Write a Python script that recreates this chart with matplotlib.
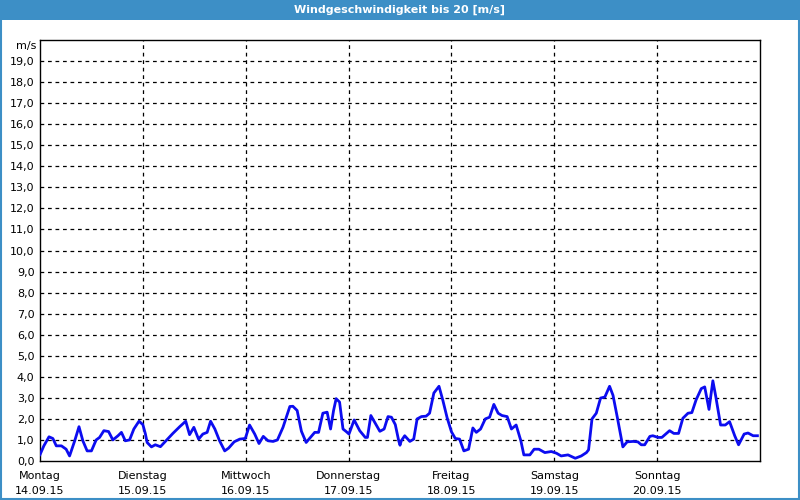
import matplotlib
matplotlib.use("Agg")
import matplotlib.pyplot as plt
from matplotlib.patches import Rectangle

# Stunden ab Montag 00:00 und Windgeschwindigkeit in m/s
stunden = [0.0, 0.9, 2.1, 3.0, 3.8, 5.0, 6.1, 6.9, 8.1, 9.1, 10.0, 11.0, 12.0,
           13.1, 13.9, 14.9, 16.0, 17.0, 18.2, 19.0, 19.9, 20.9, 21.9, 23.1,
           24.0, 24.6, 25.0, 26.0, 26.9, 28.1, 31.0, 32.6, 34.0, 34.9, 35.9,
           37.0, 38.0, 39.0, 39.8, 40.8, 41.9, 43.1, 44.0, 45.3, 46.6, 47.9,
           48.9, 50.1, 51.1, 52.1, 53.2, 54.4, 55.4, 56.7, 58.3, 59.0, 60.0,
           61.0, 62.1, 62.9, 64.1, 65.0, 66.0, 67.0, 67.8, 68.5, 69.1, 69.9,
           70.7, 71.5, 72.1, 73.3, 74.6, 75.9, 76.4, 77.2, 78.1, 79.3, 80.3,
           81.2, 82.0, 82.9, 83.7, 84.0, 84.3, 85.1, 86.3, 87.2, 88.0, 89.0,
           90.1, 90.9, 91.9, 93.1, 94.0, 95.0, 96.0, 96.9, 97.9, 98.9, 100.0,
           101.0, 101.8, 102.8, 103.9, 104.9, 105.9, 106.9, 107.8, 109.0,
           110.0, 111.1, 112.2, 112.9, 114.3, 115.3, 116.4, 117.8, 119.3,
           120.5, 121.6, 123.2, 124.9, 126.3, 127.5, 128.0, 128.8, 129.8,
           130.8, 131.8, 132.9, 133.7, 134.7, 136.0, 137.0, 138.4, 139.5,
           140.3, 141.1, 142.3, 143.0, 144.2, 145.1, 146.9, 147.9, 149.0,
           150.0, 151.2, 152.1, 153.1, 154.3, 155.1, 156.1, 157.0, 157.7,
           158.8, 159.9, 160.9, 162.1, 163.0, 164.3, 165.2, 166.4, 167.4]
wind = [0.3, 0.72, 1.15, 1.07, 0.72, 0.72, 0.56, 0.24, 0.96, 1.63, 0.96, 0.48,
        0.48, 1.0, 1.12, 1.44, 1.4, 1.0, 1.2, 1.36, 0.96, 1.0, 1.52, 1.89,
        1.73, 1.28, 0.88, 0.67, 0.77, 0.68, 1.31, 1.63, 1.89, 1.25, 1.6,
        1.04, 1.28, 1.36, 1.89, 1.52, 0.96, 0.48, 0.61, 0.91, 1.04, 1.07,
        1.71, 1.28, 0.83, 1.17, 0.96, 0.93, 1.0, 1.6, 2.59, 2.6, 2.4,
        1.41, 0.88, 1.07, 1.36, 1.36, 2.27, 2.32, 1.52, 2.4, 2.96, 2.8,
        1.52, 1.39, 1.28, 1.95, 1.44, 1.12, 1.12, 2.16, 1.84, 1.41, 1.52,
        2.11, 2.08, 1.73, 0.96, 0.75, 0.96, 1.2, 0.93, 1.04, 2.0, 2.11,
        2.13, 2.27, 3.23, 3.55, 2.88, 2.05, 1.39, 1.07, 1.04, 0.48, 0.56,
        1.57, 1.36, 1.52, 2.0, 2.08, 2.69, 2.27, 2.16, 2.11,
        1.52, 1.71, 0.96, 0.29, 0.29, 0.56, 0.56, 0.4, 0.45,
        0.37, 0.24, 0.29, 0.13, 0.24, 0.4, 0.53, 2.0, 2.27,
        2.99, 3.04, 3.55, 3.12, 2.08, 0.67, 0.91, 0.93, 0.91,
        0.77, 0.77, 1.17, 1.2, 1.12, 1.12, 1.44, 1.31, 1.31,
        2.03, 2.27, 2.3, 2.91, 3.44, 3.52, 2.45, 3.81, 3.04,
        1.71, 1.71, 1.87, 1.2, 0.77, 1.28, 1.33, 1.2, 1.2]

tage = ["Montag", "Dienstag", "Mittwoch", "Donnerstag", "Freitag", "Samstag", "Sonntag"]
daten = ["14.09.15", "15.09.15", "16.09.15", "17.09.15", "18.09.15", "19.09.15", "20.09.15"]

blau = "#3d8fc6"

fig = plt.figure(figsize=(8, 5), dpi=100)
fig.patch.set_facecolor("white")

# Titelleiste und Rahmen
fig.patches.append(Rectangle((0, 0.96), 1, 0.04, transform=fig.transFigure,
                             facecolor=blau, edgecolor="none", zorder=0))
fig.patches.append(Rectangle((0.0012, 0.002), 0.9976, 0.996, transform=fig.transFigure,
                             facecolor="none", edgecolor=blau, linewidth=1.5, zorder=0))
fig.text(0.5, 0.98, "Windgeschwindigkeit bis 20 [m/s]", color="white",
         ha="center", va="center", fontsize=8, fontweight="bold")

ax = fig.add_axes([0.05, 0.078, 0.9, 0.842])
ax.plot(stunden, wind, color="#0c0cf0", linewidth=2, zorder=3)

ax.set_xlim(0, 168)
ax.set_ylim(0, 20)

ax.set_yticks(range(0, 20))
ax.set_yticklabels([f"{v},0" for v in range(0, 20)], fontsize=8)
ax.set_xticks([24 * i for i in range(7)])
ax.set_xticklabels([f"{t}\n{d}" for t, d in zip(tage, daten)], fontsize=8,
                   linespacing=1.6)
ax.tick_params(axis="y", length=0, pad=4)
ax.tick_params(axis="x", length=0, pad=7)

for y in range(1, 20):
    ax.axhline(y, color="black", linewidth=0.9, linestyle=(0, (3, 3)), zorder=1)
for i in range(1, 7):
    ax.axvline(24 * i, color="black", linewidth=0.9, linestyle=(0, (3, 3)), zorder=1)

for s in ax.spines.values():
    s.set_linewidth(1)
    s.set_color("black")

fig.text(0.046, 0.907, "m/s", ha="right", va="center", fontsize=8)

fig.savefig("out.png", dpi=100)
